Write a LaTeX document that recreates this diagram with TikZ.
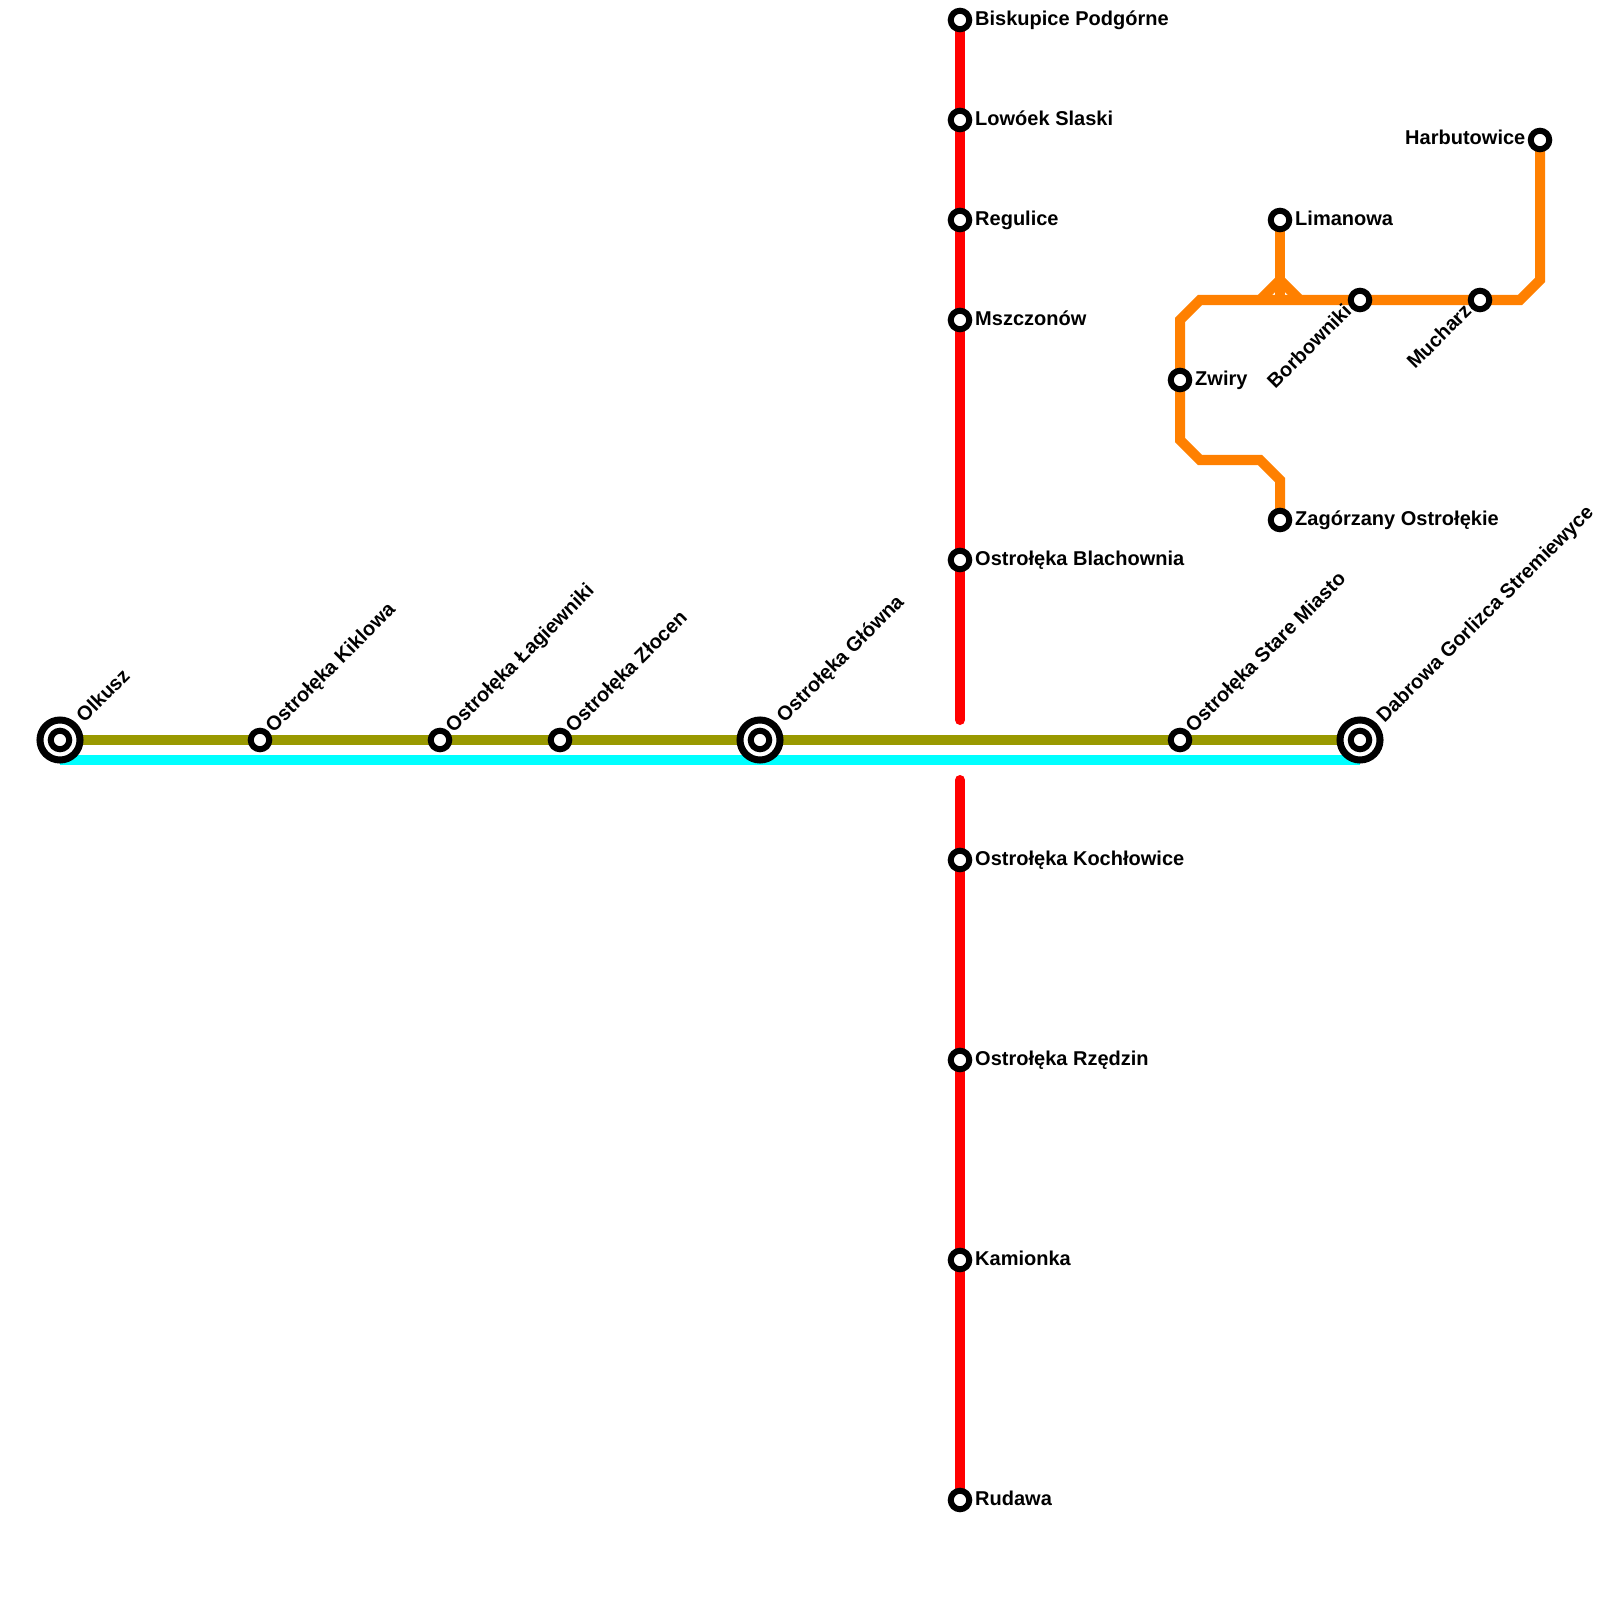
\documentclass[tikz,border=0pt]{standalone}
\usepackage{fontspec}
\setmainfont{Liberation Sans}
\usepackage{xcolor}
\usetikzlibrary{calc}
\definecolor{ligneolive}{HTML}{999900}
\definecolor{lignecyan}{HTML}{00FFFF}
\definecolor{lignerouge}{HTML}{FF0000}
\definecolor{ligneorange}{HTML}{FF8000}

\begin{document}
\begin{tikzpicture}[
    x=0.01cm,y=-0.01cm,
    gare/.style    = {circle, draw=black, fill=white, line width=0.06cm,
                      inner sep=0pt, minimum size=0.185cm},
    noeud/.style   = {circle, draw=black, fill=white, line width=0.07cm,
                      inner sep=0pt, minimum size=0.40cm},
    voie/.style    = {line width=0.1cm},
    nom/.style     = {font=\fontsize{5.69pt}{6.5pt}\selectfont\bfseries,
                      inner sep=0pt, anchor=base west},
    nomdiag/.style = {nom, rotate=45},
    nominv/.style  = {nom, anchor=base east, rotate=45},
  ]
  \useasboundingbox (0,0) rectangle (1600,1600);

  % -- Ligne horizontale ----------------------------------------------------
  \coordinate (olk) at (60,740);
  \coordinate (kik) at (260,740);
  \coordinate (lag) at (440,740);
  \coordinate (zlo) at (560,740);
  \coordinate (glo) at (760,740);
  \coordinate (sta) at (1180,740);
  \coordinate (dab) at (1360,740);
  \coordinate (cyanA) at (60,760);
  \coordinate (cyanB) at (1360,760);

  % -- Ligne rouge ----------------------------------------------------------
  \coordinate (bis) at (960,20);
  \coordinate (low) at (960,120);
  \coordinate (reg) at (960,220);
  \coordinate (msz) at (960,320);
  \coordinate (bla) at (960,560);
  \coordinate (rougeA) at (960,720);
  \coordinate (rougeB) at (960,780);
  \coordinate (koc) at (960,860);
  \coordinate (rze) at (960,1060);
  \coordinate (kam) at (960,1260);
  \coordinate (rud) at (960,1500);

  % -- Ligne orange ---------------------------------------------------------
  \coordinate (lim) at (1280,220);
  \coordinate (bor) at (1360,300);
  \coordinate (muc) at (1480,300);
  \coordinate (har) at (1540,140);
  \coordinate (zwi) at (1180,380);
  \coordinate (zag) at (1280,520);

  \coordinate (coudeA) at (1280,480);
  \coordinate (coudeB) at (1260,460);
  \coordinate (coudeC) at (1200,460);
  \coordinate (coudeD) at (1180,440);
  \coordinate (coudeE) at (1180,320);
  \coordinate (coudeF) at (1200,300);
  \coordinate (coudeG) at (1520,300);
  \coordinate (coudeH) at (1540,280);

  \coordinate (fourche) at (1280,280);
  \coordinate (fourG)   at (1260,300);
  \coordinate (fourM)   at (1280,300);
  \coordinate (fourD)   at (1300,300);

  % -- Voies ----------------------------------------------------------------
  \draw[voie,lignecyan] (cyanA) -- (cyanB);
  \draw[voie,ligneolive] (olk) -- (dab);

  \draw[voie,lignerouge,line cap=round] (bis) -- (rougeA);
  \draw[voie,lignerouge,line cap=round] (rougeB) -- (rud);

  \draw[voie,ligneorange]
       (zag) -- (coudeA) -- (coudeB) -- (coudeC) -- (coudeD)
       -- (zwi) -- (coudeE) -- (coudeF) -- (bor) -- (muc)
       -- (coudeG) -- (coudeH) -- (har);
  \draw[voie,ligneorange] (lim) -- (fourM);
  \draw[voie,ligneorange] (fourG) -- (fourche) -- (fourD);

  % -- Stations -------------------------------------------------------------
  \foreach \s in {olk,glo,dab}
    \node[noeud] (\s N) at (\s) {};

  \foreach \s in {olk,kik,lag,zlo,glo,sta,dab,bis,low,reg,msz,bla,koc,rze,kam,rud,
                  lim,bor,muc,har,zwi,zag}
    \node[gare] (\s G) at (\s) {};

  % -- Libelles en diagonale ------------------------------------------------
  \foreach \s/\t in {olk/Olkusz,glo/Ostrołęka Główna,dab/Dabrowa Gorlizca Stremiewyce}
    \node[nomdiag] (\s T) at ($(\s)+(24,-16)$) {\t};

  \foreach \s/\t in {kik/Ostrołęka Kiklowa,lag/Ostrołęka Łagiewniki,
                     zlo/Ostrołęka Złocen,sta/Ostrołęka Stare Miasto}
    \node[nomdiag] (\s T) at ($(\s)+(13,-6)$) {\t};

  \foreach \s/\t in {bor/Borbowniki,muc/Mucharz}
    \node[nominv] (\s T) at ($(\s)+(-7,12)$) {\t};

  % -- Libelles a droite ----------------------------------------------------
  \foreach \s/\t in {bis/Biskupice Podgórne,low/Lowóek Slaski,reg/Regulice,
                     msz/Mszczonów,bla/Ostrołęka Blachownia,koc/Ostrołęka Kochłowice,
                     rze/Ostrołęka Rzędzin,kam/Kamionka,rud/Rudawa,
                     lim/Limanowa,zwi/Zwiry,zag/Zagórzany Ostrołękie}
    \node[nom] (\s T) at ($(\s)+(14.5,5.5)$) {\t};

  \node[nom,anchor=base east] (harT) at ($(har)+(-14,5)$) {Harbutowice};
\end{tikzpicture}
\end{document}
